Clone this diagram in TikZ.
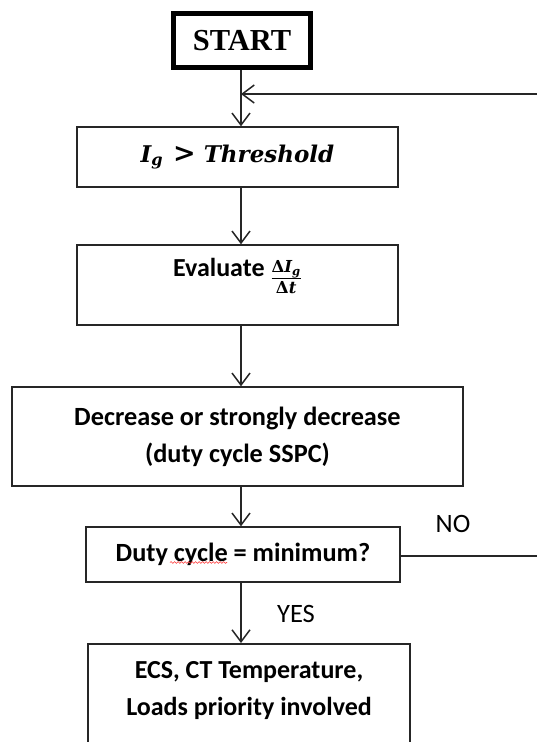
\documentclass[tikz,border=0pt]{standalone}
\usepackage{fontspec}
\setmainfont{Carlito}
\newfontfamily\startfont{Liberation Serif}
\newfontfamily\formfont{DejaVu Serif}
\usetikzlibrary{arrows.meta,decorations.pathmorphing}
% bold italic formula letters, upright bold symbols
\newcommand{\fv}[1]{{\formfont\bfseries\itshape #1}}
\newcommand{\fs}[1]{{\formfont\bfseries #1}}
\begin{document}
\begin{tikzpicture}[x=1pt,y=-1pt,
  every node/.style={inner sep=0pt},
  box/.style={draw=black!85, line width=1.5pt, align=center,
    font=\fontsize{26.3}{37}\selectfont\bfseries},
  startbox/.style={draw=black, line width=5pt,
    font=\startfont\fontsize{30.5}{32}\selectfont\bfseries,
    minimum width=137pt, minimum height=54pt},
  flow/.style={draw=black!85, line width=1.5pt,
    -{Straight Barb[length=12pt,width=18pt,line width=1.5pt]}},
  lbl/.style={font=\fontsize{26.5}{28}\selectfont},
  btext/.style={align=center, font=\fontsize{26}{37}\selectfont\bfseries}]
\useasboundingbox (0,0) rectangle (537,742);

% process boxes
\node[startbox] (start) at (242,40.5) {START};
\node[box, minimum width=321pt, minimum height=60pt, font=\fontsize{23}{26}\selectfont] (thr) at (237.5,157) {\fv{I\textsubscript{g}}\hspace{10pt}{\fontsize{27}{27}\selectfont\fs{>}}\hspace{8pt}\fv{Threshold}};
\node[box, minimum width=321pt, minimum height=80pt] (eval) at (237.5,285) {};
\node[btext] (evaltext) at ([yshift=9pt]eval.center) {Evaluate \raisebox{-8pt}{$\frac{\hbox{\fontsize{16.5}{16.5}\selectfont\fs{Δ}\fv{I\textsubscript{g}}}}{\hbox{\fontsize{16.5}{16.5}\selectfont\fs{Δ}\fv{t}}}$}};
\node[box, minimum width=451pt, minimum height=99pt] (dec) at (237.5,436.5) {Decrease or strongly decrease\\(duty cycle SSPC)};
\node[box, minimum width=314pt, minimum height=55pt] (duty) at (243,554.5) {Duty cycle = minimum?};
\node[box, minimum width=322pt, minimum height=150pt, anchor=north] (ecs) at (249,643) {};
\node[btext] (ecstext) at ([yshift=-48pt]ecs.north) {ECS, CT Temperature,\\Loads priority involved};

% spell-check squiggle under "cycle"
\draw[red!80, line width=0.6pt, decorate,
  decoration={snake, amplitude=0.9pt, segment length=3.5pt}] (170,562.5) -- (227,562.5);

% connectors
\coordinate (join) at (241,94);
\coordinate (rb) at (548,556);
\coordinate (rt) at (548,94);
\draw[draw=black!85, line width=1.5pt] (join |- start.south) -- (join);
\draw[flow] (join) -- (join |- thr.north);
\draw[flow] (join |- thr.south) -- (join |- eval.north);
\draw[flow] (join |- eval.south) -- (join |- dec.north);
\draw[flow] (join |- dec.south) -- (join |- duty.north);
\draw[flow] (join |- duty.south) -- (join |- ecs.north);
\draw[flow] (duty.east |- rb) -- (rb) -- (rt) -- (join);

% branch labels
\node[lbl] (no) at (453,524) {NO};
\node[lbl] (yes) at (296,614) {YES};
\end{tikzpicture}
\end{document}
